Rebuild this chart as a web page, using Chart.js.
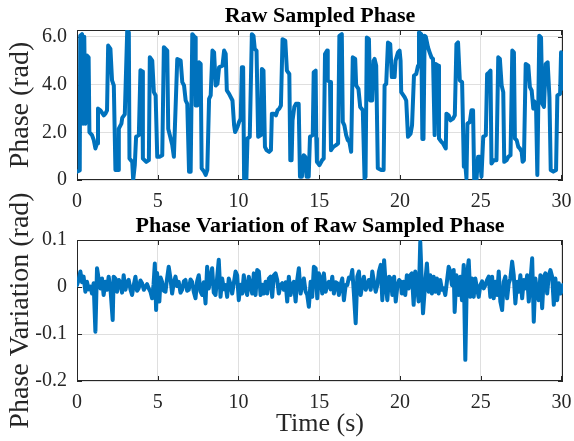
<!DOCTYPE html>
<html><head><meta charset="utf-8">
<script src="https://cdn.jsdelivr.net/npm/chart.js@4"></script>
<style>
html,body{margin:0;padding:0;background:#fff;}
#wrap{position:relative;width:574px;height:441px;overflow:hidden;}
canvas{position:absolute;left:0;}
</style></head><body>
<div id="wrap">
<canvas id="c1" width="574" height="210" style="top:0px"></canvas>
<canvas id="c2" width="574" height="271" style="top:170px"></canvas>
</div>
<script>
// ---- Data: Raw sampled phase (rad) vs time (s)
const phaseTime = [
0.00,0.17,0.20,0.31,0.38,0.45,0.52,0.62,0.72,0.77,0.93,1.04,1.14,1.24,1.30,1.45,1.66,1.76,1.86,1.93,2.07,
2.17,2.28,2.38,2.55,2.59,2.75,2.80,2.96,3.11,3.21,3.25,3.42,3.48,3.58,3.66,3.83,3.93,4.04,4.08,4.29,
4.45,4.51,4.66,4.76,4.87,4.97,5.11,5.28,5.38,5.59,5.65,5.80,5.90,6.00,6.21,6.42,6.52,6.63,6.73,6.83,
6.94,7.04,7.14,7.31,7.35,7.45,7.56,7.66,7.72,7.87,7.97,8.07,8.18,8.28,8.39,8.49,8.59,8.70,8.80,9.01,
9.11,9.21,9.28,9.42,9.63,9.73,9.79,9.94,10.04,10.14,10.21,10.29,10.35,10.49,10.56,10.70,10.83,10.93,11.01,11.12,
11.22,11.39,11.45,11.55,11.64,11.74,11.90,12.01,12.07,12.21,12.32,12.42,12.53,12.63,12.73,12.90,13.00,13.15,13.21,13.29,
13.35,13.46,13.56,13.73,13.81,13.93,14.04,14.14,14.22,14.35,14.43,14.60,14.66,14.78,14.82,14.86,15.01,15.18,15.28,15.36,
15.49,15.53,15.67,15.73,15.88,16.04,16.17,16.25,16.40,16.46,16.56,16.67,16.77,16.87,16.98,17.08,17.23,17.29,17.43,17.54,
17.70,17.81,17.87,17.95,18.08,18.16,18.28,18.37,18.43,18.53,18.63,18.84,18.99,19.05,19.15,19.26,19.40,19.50,19.67,19.73,
19.88,19.98,20.04,20.08,20.29,20.39,20.50,20.66,20.75,20.87,21.01,21.12,21.18,21.32,21.39,21.46,21.53,21.60,21.74,21.84,
21.95,22.05,22.15,22.21,22.36,22.42,22.57,22.67,22.84,22.88,23.02,23.13,23.29,23.40,23.50,23.60,23.71,23.85,23.96,24.06,
24.12,24.18,24.33,24.43,24.53,24.60,24.74,24.84,24.95,25.05,25.16,25.32,25.40,25.53,25.61,25.67,25.82,25.98,26.09,26.19,
26.30,26.40,26.46,26.61,26.71,26.85,26.96,27.06,27.12,27.23,27.33,27.43,27.54,27.60,27.68,27.79,27.95,28.05,28.16,28.26,
28.32,28.43,28.51,28.63,28.74,28.82,28.92,29.03,29.15,29.26,29.34,29.50,29.67,29.75,29.92,29.98,30.05,30.10
];
const phaseValue = [
0.35,0.40,6.04,6.11,2.36,6.00,2.36,5.21,5.14,2.00,1.88,1.67,1.32,1.53,2.99,2.92,2.71,2.78,2.92,5.63,5.49,
4.17,3.96,0.42,0.42,2.15,2.36,2.60,2.75,6.25,6.18,0.90,0.76,0.00,0.63,1.81,1.88,4.60,4.55,0.90,0.76,
0.83,5.14,5.00,3.68,3.54,0.97,0.97,1.04,5.56,5.42,2.15,1.74,1.46,0.97,5.07,5.00,4.10,3.96,3.33,3.19,
0.35,0.35,6.11,5.97,3.12,3.12,4.93,4.86,0.49,0.35,0.21,0.42,3.40,3.54,5.42,5.35,3.96,4.03,4.72,4.79,
5.42,5.28,3.75,3.61,3.33,2.29,2.01,2.22,2.43,2.57,4.72,4.72,0.00,0.00,1.74,1.81,6.11,6.04,5.49,5.42,
1.81,1.88,4.65,4.58,1.39,1.25,1.18,1.25,2.78,2.78,2.71,2.92,2.99,3.12,5.90,5.83,4.58,4.44,0.83,0.83,
2.50,3.06,3.19,3.19,0.14,0.14,1.04,0.97,0.14,0.14,1.81,1.88,4.51,4.58,1.74,0.76,0.62,0.83,0.90,5.28,
5.42,4.17,4.10,1.25,1.39,1.46,1.53,6.04,6.11,2.43,2.29,1.88,1.67,1.60,1.18,5.14,5.07,3.96,3.82,3.06,
2.92,0.07,0.14,5.97,5.90,3.33,3.33,5.00,5.07,4.79,0.49,0.42,0.42,3.96,4.03,5.76,5.69,4.31,4.31,5.00,
5.35,5.42,5.00,3.68,3.47,3.33,1.81,1.94,2.29,4.37,4.44,4.79,6.18,6.11,1.72,1.72,6.04,6.00,5.55,5.35,
5.14,5.07,1.88,4.86,4.79,1.74,1.60,1.53,1.32,2.78,2.71,2.50,2.57,2.71,5.69,5.76,4.17,4.10,0.56,0.56,
0.07,2.36,2.43,2.92,2.92,0.00,0.00,0.97,0.97,0.14,1.81,1.88,4.44,4.51,4.58,0.69,0.83,0.83,5.14,5.07,
3.96,3.68,0.76,0.83,0.97,1.04,5.42,5.35,1.74,1.67,1.39,1.32,1.18,0.76,0.83,4.86,4.79,3.89,3.75,2.99,
3.30,3.12,0.21,6.04,5.97,3.19,3.06,4.86,4.93,3.47,0.42,0.35,0.42,3.54,3.61,5.35,5.28,3.82
];

// ---- Data: Phase variation (rad) vs time (s)
const variationTime = [
0.00,0.10,0.21,0.31,0.41,0.52,0.62,0.72,0.83,0.93,
1.03,1.14,1.24,1.34,1.45,1.55,1.65,1.76,1.86,1.96,
2.07,2.21,2.27,2.38,2.48,2.59,2.69,2.79,2.89,3.00,
3.10,3.20,3.31,3.41,3.52,3.62,3.72,3.82,3.93,4.03,
4.14,4.24,4.34,4.44,4.55,4.65,4.74,4.82,4.90,4.96,
5.02,5.10,5.18,5.27,5.37,5.48,5.58,5.68,5.79,5.89,
6.00,6.10,6.20,6.30,6.41,6.51,6.62,6.72,6.82,6.92,
7.03,7.13,7.23,7.34,7.44,7.54,7.65,7.75,7.85,7.96,
8.06,8.16,8.27,8.37,8.47,8.58,8.68,8.78,8.89,8.99,
9.10,9.20,9.30,9.40,9.51,9.61,9.72,9.82,9.92,10.02,
10.12,10.23,10.33,10.44,10.54,10.64,10.75,10.85,10.95,11.06,
11.16,11.26,11.37,11.47,11.57,11.68,11.78,11.88,11.99,12.09,
12.19,12.30,12.40,12.50,12.61,12.71,12.81,12.92,13.02,13.12,
13.23,13.33,13.43,13.54,13.64,13.74,13.85,13.95,14.05,14.16,
14.26,14.36,14.47,14.57,14.67,14.78,14.88,14.98,15.09,15.19,
15.29,15.40,15.50,15.60,15.71,15.81,15.91,16.02,16.12,16.22,
16.33,16.43,16.53,16.64,16.74,16.84,16.95,17.05,17.15,17.26,
17.36,17.46,17.57,17.67,17.77,17.88,17.98,18.08,18.19,18.29,
18.39,18.50,18.60,18.70,18.81,18.91,19.02,19.12,19.22,19.33,
19.43,19.53,19.64,19.74,19.84,19.95,20.05,20.12,20.22,20.33,
20.43,20.54,20.64,20.74,20.85,20.95,21.05,21.16,21.26,21.36,
21.43,21.57,21.67,21.78,21.88,21.98,22.09,22.19,22.29,22.40,
22.50,22.60,22.71,22.81,22.91,23.02,23.12,23.22,23.33,23.39,
23.50,23.64,23.74,23.84,23.95,24.05,24.15,24.26,24.36,24.46,
24.57,24.67,24.77,24.88,24.98,25.09,25.19,25.29,25.40,25.50,
25.60,25.71,25.81,25.91,26.02,26.12,26.22,26.33,26.43,26.53,
26.64,26.74,26.84,26.95,27.05,27.15,27.26,27.36,27.46,27.57,
27.67,27.77,27.88,27.98,28.08,28.19,28.29,28.39,28.50,28.60,
28.70,28.81,28.91,29.01,29.12,29.22,29.32,29.43,29.53,29.63,
29.74,29.84,29.94,30.05,30.09
];
const variationValue = [
0.004,0.015,0.033,0.010,0.022,-0.010,0.011,-0.005,0.001,-0.014,
0.008,-0.095,0.040,0.018,-0.003,0.018,-0.017,0.011,-0.006,0.022,
-0.003,-0.070,0.022,0.018,-0.010,0.015,0.008,-0.012,0.025,-0.006,
0.010,0.015,-0.005,-0.017,0.005,0.022,-0.008,-0.003,0.014,0.008,
-0.006,0.001,0.006,-0.003,-0.010,-0.024,0.005,0.050,-0.049,0.030,
0.004,-0.031,0.020,0.011,-0.008,-0.010,0.018,0.043,0.018,-0.014,
0.010,0.022,0.002,0.011,-0.012,-0.006,0.012,0.015,-0.008,-0.006,
0.016,0.011,-0.010,-0.024,0.012,0.025,-0.010,-0.017,0.010,-0.035,
0.043,-0.003,0.020,0.040,-0.012,-0.017,0.020,0.058,-0.021,0.018,
-0.005,0.004,-0.021,0.018,0.005,-0.014,0.010,0.033,0.025,-0.028,
0.005,-0.014,0.025,-0.005,-0.017,0.022,0.002,-0.014,0.029,-0.017,
0.036,0.033,-0.017,0.005,-0.014,0.011,-0.014,0.018,0.022,-0.021,
0.025,0.029,0.015,-0.014,0.004,0.008,-0.006,0.010,-0.031,0.022,
-0.017,0.005,0.011,-0.031,0.015,0.040,-0.014,0.006,0.018,-0.010,
-0.017,-0.042,0.011,-0.021,0.043,0.040,-0.024,0.029,0.018,-0.014,
0.029,-0.010,0.005,0.011,-0.005,0.022,-0.014,0.010,0.008,-0.017,
0.006,0.018,-0.028,0.004,0.004,0.020,0.018,0.036,-0.014,-0.077,
0.022,0.033,-0.017,0.005,0.022,-0.006,0.004,0.015,-0.006,0.033,
0.011,-0.010,0.004,0.033,0.047,-0.028,0.057,0.004,-0.028,0.022,
0.018,-0.017,0.022,-0.031,0.001,0.015,0.011,-0.014,0.011,-0.017,
0.025,-0.003,0.025,0.029,-0.038,0.033,0.004,-0.031,0.096,0.004,
-0.056,0.011,0.050,-0.010,0.025,-0.014,0.022,-0.010,0.018,-0.014,
0.015,-0.006,-0.003,-0.017,0.011,0.043,0.033,0.004,0.036,-0.053,
0.025,-0.017,0.022,-0.028,0.047,-0.155,0.025,0.057,-0.021,0.018,
-0.021,0.018,-0.003,-0.021,0.004,0.012,-0.003,0.004,0.015,0.022,
-0.021,0.022,-0.024,0.011,-0.017,0.033,-0.031,-0.049,0.011,0.022,
-0.024,0.008,0.018,0.054,0.025,-0.035,0.011,-0.010,0.025,-0.024,
0.015,-0.003,0.025,-0.031,0.011,0.061,-0.074,0.018,-0.014,-0.028,
0.025,-0.045,0.022,0.029,-0.014,0.025,0.036,0.022,-0.038,0.018,
-0.028,0.008,-0.014,-0.006,0.004
];

// ---- Axis ticks and labels
const timeTicks = [0,5,10,15,20,25,30];
const timeTickLabels = ['0','5','10','15','20','25','30'];
const phaseTicks = [0,2,4,6];
const phaseTickLabels = ['0','2.0','4.0','6.0'];
const variationTicks = [-0.2,-0.1,0,0.1];
const variationTickLabels = ['-0.2','-0.1','0','0.1'];

const SERIF = "'Liberation Serif', 'Times New Roman', serif";
const AXIS_COLOR = '#262626';
const GRID_COLOR = '#dfdfdf';
const LINE_COLOR = '#0072BD';

const framePlugin = {
  id: 'frame',
  beforeDatasetsDraw(chart) {
    const {ctx, chartArea: a, scales: {x, y}} = chart;
    ctx.save();
    ctx.strokeStyle = AXIS_COLOR;
    ctx.lineWidth = 1;
    ctx.strokeRect(Math.round(a.left) + 0.5, Math.round(a.top) + 0.5,
      Math.round(a.right - a.left) - 1, Math.round(a.bottom - a.top) - 1);
    ctx.beginPath();
    const L = 5;
    x.ticks.forEach(t => {
      const px = Math.round(x.getPixelForValue(t.value)) + 0.5;
      ctx.moveTo(px, a.bottom); ctx.lineTo(px, a.bottom - L);
      ctx.moveTo(px, a.top); ctx.lineTo(px, a.top + L);
    });
    y.ticks.forEach(t => {
      const py = Math.round(y.getPixelForValue(t.value)) + 0.5;
      ctx.moveTo(a.left, py); ctx.lineTo(a.left + L, py);
      ctx.moveTo(a.right, py); ctx.lineTo(a.right - L, py);
    });
    ctx.stroke();
    ctx.restore();
  }
};

function makeChart(id, times, values, cfg) {
  const points = times.map((t, i) => ({x: t, y: values[i]}));
  return new Chart(document.getElementById(id), {
    type: 'line',
    data: {datasets: [{
      data: points, borderColor: LINE_COLOR, borderWidth: 4, pointRadius: 0,
      fill: false, tension: 0, borderJoinStyle: 'round', borderCapStyle: 'round'
    }]},
    options: {
      responsive: false, animation: false, devicePixelRatio: 1,
      layout: {padding: {left: 0, right: 11, top: 0, bottom: 0}},
      plugins: {
        legend: {display: false}, tooltip: {enabled: false},
        title: {display: true, fullSize: false, text: cfg.title, color: '#000',
          font: {family: SERIF, size: 22, weight: 'bold', lineHeight: 1.2},
          padding: {top: cfg.titleTop, bottom: 0.6}}
      },
      scales: {
        x: {
          type: 'linear', min: 0, max: 30.1,
          afterBuildTicks: s => { s.ticks = timeTicks.map(v => ({value: v})); },
          afterFit: s => { s.height = cfg.xHeight; s.paddingLeft = 0; s.paddingRight = 0; },
          ticks: {autoSkip: false, maxRotation: 0, color: AXIS_COLOR, padding: 10,
            font: {family: SERIF, size: 20},
            callback: (v, i) => timeTickLabels[i]},
          grid: {color: GRID_COLOR, drawTicks: false, lineWidth: 1},
          border: {display: false},
          title: cfg.xTitle ? {display: true, text: cfg.xTitle, color: AXIS_COLOR,
            font: {family: SERIF, size: 26, lineHeight: 1.2}, padding: {top: 0, bottom: 1}} : {display: false}
        },
        y: {
          type: 'linear', min: cfg.yMin, max: cfg.yMax,
          afterBuildTicks: s => { s.ticks = cfg.yTicks.map(v => ({value: v})); },
          afterFit: s => { s.width = 77; s.paddingTop = 0; s.paddingBottom = 0; },
          ticks: {autoSkip: false, color: AXIS_COLOR, padding: 10,
            font: {family: SERIF, size: 20},
            callback: (v, i) => cfg.yLabels[i]},
          grid: {color: GRID_COLOR, drawTicks: false, lineWidth: 1},
          border: {display: false},
          title: {display: true, text: cfg.yTitle, color: AXIS_COLOR,
            font: {family: SERIF, size: 28, lineHeight: 1.2}, padding: {top: 4, bottom: 0}}
        }
      }
    },
    plugins: [framePlugin]
  });
}

makeChart('c1', phaseTime, phaseValue, {
  title: 'Raw Sampled Phase', yTitle: 'Phase (rad)', titleTop: 3,
  yMin: 0, yMax: 2 * Math.PI, yTicks: phaseTicks, yLabels: phaseTickLabels,
  xHeight: 30, xTitle: null
});
makeChart('c2', variationTime, variationValue, {
  title: 'Phase Variation of Raw Sampled Phase', yTitle: 'Phase Variation (rad)', titleTop: 43,
  yMin: -0.2, yMax: 0.1, yTicks: variationTicks, yLabels: variationTickLabels,
  xHeight: 60, xTitle: 'Time (s)'
});
</script>
</body></html>
